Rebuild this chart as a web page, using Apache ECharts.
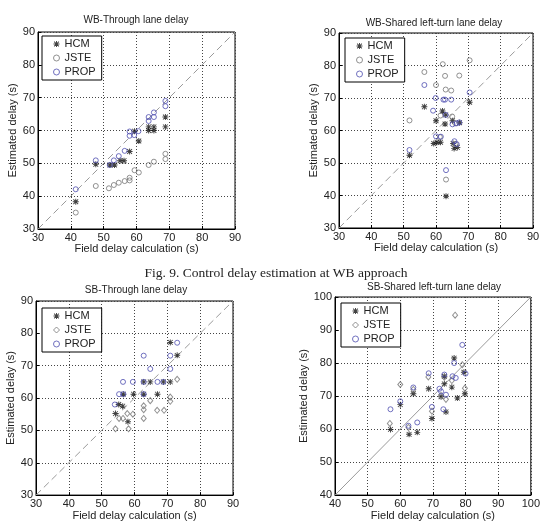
<!DOCTYPE html>
<html>
<head>
<meta charset="utf-8">
<script src="https://cdn.jsdelivr.net/npm/echarts@6/dist/echarts.min.js"></script>
<style>
  html, body { margin: 0; padding: 0; background: #fff; }
  #chart { width: 543px; height: 522px; }
</style>
</head>
<body>
<div id="chart"></div>
<script>
// series names and axis ranges
const seriesNames = ['HCM', 'JSTE', 'PROP'];
const titles = ['WB-Through lane delay', 'WB-Shared left-turn lane delay', 'SB-Through lane delay', 'SB-Shared left-turn lane delay'];
const caption = 'Fig. 9. Control delay estimation at WB approach';
const xName = 'Field delay calculation (s)';
const yName = 'Estimated delay (s)';
const range30 = [30, 90];
const range40 = [40, 100];
const tickStep = 10;

// WB through lane  [field, estimated]
const wbThroughHcm = [[41.5,38.3],[47.6,49.7],[51.9,49.5],[53.3,49.5],[55,50.8],[56.2,50.8],[57.9,53.6],[59.4,59.8],[60.7,56.8],[63.7,61.1],[63.7,60],[65.3,61.1],[65.3,60],[68.8,64.1],[68.8,61.1]];
const wbThroughJste = [[41.5,35],[47.6,43.1],[51.6,42.4],[53.1,43.4],[54.6,44.1],[56.4,44.6],[57.9,45.6],[57.9,44.8],[59.4,47.9],[60.7,47.2],[63.7,49.5],[65.3,50.5],[68.8,51.3],[68.8,52.9]];
const wbThroughProp = [[41.5,42.1],[47.6,50.9],[51.9,49.5],[53.1,50.9],[54.6,52.2],[56.4,53.8],[57.9,59.7],[57.9,58.4],[59.3,58.6],[60.6,59.8],[63.7,62.9],[63.7,64.1],[65.3,64.1],[65.3,65.5],[68.8,67.4],[68.8,69]];

// WB shared left-turn lane
const wbSharedHcm = [[51.8,52.4],[56.4,67.3],[59.3,56],[60.3,56.4],[61.4,56.4],[60,63],[62,66],[63,64.8],[62.8,62],[63.1,39.8],[65.1,63],[65.3,56],[65.6,54.5],[66.6,54.8],[67.3,62.4],[70.4,68.7]];
const wbSharedJste = [[51.8,63.1],[56.4,78],[60,74],[62.1,80.4],[62.8,76.8],[63,72.6],[64.7,72.3],[67.2,76.9],[70.4,81.6],[61.4,64.6],[65,64.3],[66,62.2],[63.1,44.9],[61.2,58],[66.1,55.8]];
const wbSharedProp = [[51.8,54],[56.4,74],[59.9,70],[62.3,69.5],[62.8,69.5],[64.7,69.5],[59.1,66.1],[63,64.8],[60,58.2],[61.5,58.1],[65.1,61.9],[66.4,62.2],[67.2,62.5],[65.7,56.7],[66.4,55.8],[63.1,47.8],[70.4,71.7]];

// SB through lane
const sbThroughHcm = [[54.2,55.2],[55.2,58],[56.4,57.5],[56.6,61.2],[58,52.7],[59.7,61.2],[62.8,61.2],[62.8,65],[64.8,65],[67,61.2],[68.8,65],[70.9,65],[70.9,77.2],[73,73.2]];
const sbThroughJste = [[54.2,50.5],[55.3,53.7],[56.5,53.7],[57.8,55.2],[58.2,50.5],[59.5,55],[62.8,53.7],[62.8,56.4],[62.8,57.6],[64.8,59.2],[66.9,56.2],[69,56.2],[70.9,59],[70.9,60.3],[73,65.8]];
const sbThroughProp = [[54,58],[55.3,61.2],[56.6,61.2],[56.5,65],[59.5,65],[62.8,65],[62.8,61.2],[67,65],[68.8,65],[62.8,73.1],[64.8,69],[70.9,69],[70.9,73.1],[73,77.1]];

// SB shared left-turn lane
const sbSharedHcm = [[57,59.9],[60,67.4],[62.7,58.4],[64,70.7],[65.2,59],[68.7,72.2],[69.7,63.2],[72.5,69.8],[73.5,73.7],[73.5,76],[74,65.2],[75.8,72.7],[76.5,81.5],[77.5,69.4],[79.5,77.2],[79.8,70.7]];
const sbSharedJste = [[56.8,61.7],[60,73.5],[62.5,60.5],[64,72],[68.6,75.8],[69.7,65.4],[72.5,70.2],[73.5,75.7],[74,69],[75.8,74.7],[76.8,94.5],[79,79.5],[79.8,72.4]];
const sbSharedProp = [[57,66],[60,68.4],[62.5,61],[65.2,62],[64,72.6],[68.7,76.9],[69.7,66.7],[72,72.2],[72.5,71.4],[73.5,76.5],[74,70.4],[73.2,66],[76,76],[77,75.5],[76.5,80],[79,85.5],[80,76.8]];

const FONT = 'Liberation Sans';
const hcmColor = '#111';
const jsteColor = '#767676';
const propColor = '#4f4fb0';
// matlab-like asterisk marker
const starPath = 'path://M4.2,0H5.8V10H4.2Z M0,4.2H10V5.8H0Z M1.5,0.5L9.5,8.5L8.5,9.5L0.5,1.5Z M8.5,0.5L9.5,1.5L1.5,9.5L0.5,8.5Z';

const panels = [
  { data: [wbThroughHcm, wbThroughJste, wbThroughProp], range: range30, jste: 'circle', dashed: true,
    grid: { left: 38, top: 32, width: 197, height: 197 }, title: [136, 20], legend: [42, 36], yGap: 18 },
  { data: [wbSharedHcm, wbSharedJste, wbSharedProp], range: range30, jste: 'circle', dashed: true,
    grid: { left: 339, top: 33, width: 194, height: 195 }, title: [434, 23], legend: [345, 38], yGap: 17 },
  { data: [sbThroughHcm, sbThroughJste, sbThroughProp], range: range30, jste: 'diamond', dashed: true,
    grid: { left: 36, top: 301, width: 197, height: 195 }, title: [136, 290], legend: [42, 308], yGap: 18 },
  { data: [sbSharedHcm, sbSharedJste, sbSharedProp], range: range40, jste: 'diamond', dashed: false,
    grid: { left: 335, top: 297, width: 198, height: 200 }, title: [434, 287], legend: [341, 303], yGap: 24 }
];

const grids = [], xAxes = [], yAxes = [], series = [], legends = [], graphics = [];

function axis(i, p, name, gap) {
  return {
    gridIndex: i, type: 'value', min: p.range[0], max: p.range[1], interval: tickStep,
    name: name, nameLocation: 'middle', nameGap: gap,
    nameTextStyle: { fontSize: 11, fontFamily: FONT, color: '#222' },
    axisLine: { show: true, lineStyle: { color: '#000', width: 1 } },
    axisTick: { show: true, inside: true, length: 3, lineStyle: { color: '#000' } },
    axisLabel: { fontSize: 11, fontFamily: FONT, color: '#222', margin: 3 },
    splitLine: { show: true, lineStyle: { color: '#444', width: 1, type: [1, 2] } }
  };
}

panels.forEach((p, i) => {
  grids.push(Object.assign({ show: true, borderColor: '#000', borderWidth: 1 }, p.grid));
  xAxes.push(axis(i, p, xName, 14));
  yAxes.push(axis(i, p, yName, p.yGap));

  series.push({
    type: 'line', xAxisIndex: i, yAxisIndex: i, silent: true, symbol: 'none', z: 1,
    data: [[p.range[0], p.range[0]], [p.range[1], p.range[1]]],
    lineStyle: { color: '#9a9a9a', width: 1, type: p.dashed ? [7, 4] : 'solid' }
  });
  series.push({
    name: 'HCM', type: 'scatter', xAxisIndex: i, yAxisIndex: i, data: p.data[0],
    symbol: starPath, symbolSize: 6, itemStyle: { color: hcmColor }
  });
  series.push({
    name: 'JSTE', type: 'scatter', xAxisIndex: i, yAxisIndex: i, data: p.data[1],
    symbol: p.jste, symbolSize: p.jste === 'diamond' ? [5, 6] : 5,
    itemStyle: { color: 'transparent', borderColor: jsteColor, borderWidth: 1 }
  });
  series.push({
    name: 'PROP', type: 'scatter', xAxisIndex: i, yAxisIndex: i, data: p.data[2],
    symbol: 'circle', symbolSize: 5,
    itemStyle: { color: 'transparent', borderColor: propColor, borderWidth: 1 }
  });

  legends.push({
    left: p.legend[0], top: p.legend[1], orient: 'vertical', selectedMode: false,
    backgroundColor: '#fff', borderColor: '#000', borderWidth: 1,
    padding: [2, 6, 2, 11], itemGap: 2, itemWidth: 6, itemHeight: 6,
    textStyle: { fontSize: 11, fontFamily: FONT, color: '#222', lineHeight: 12 },
    data: [
      { name: 'HCM', icon: starPath, itemStyle: { color: hcmColor } },
      { name: 'JSTE', icon: p.jste, itemStyle: { color: 'transparent', borderColor: jsteColor, borderWidth: 1 } },
      { name: 'PROP', icon: 'circle', itemStyle: { color: 'transparent', borderColor: propColor, borderWidth: 1 } }
    ]
  });

  graphics.push({
    type: 'text', x: p.title[0], y: p.title[1],
    style: { text: titles[i], fontSize: 10, fontFamily: FONT, fill: '#222', textAlign: 'center', textVerticalAlign: 'middle' }
  });
});

graphics.push({
  type: 'text', x: 276, y: 273,
  style: { text: caption, fontSize: 13.5, fontFamily: 'Liberation Serif', fill: '#222', textAlign: 'center', textVerticalAlign: 'middle' }
});

const chart = echarts.init(document.getElementById('chart'));
chart.setOption({
  animation: false,
  backgroundColor: '#fff',
  grid: grids,
  xAxis: xAxes,
  yAxis: yAxes,
  legend: legends,
  graphic: graphics,
  series: series
});
</script>
</body>
</html>
